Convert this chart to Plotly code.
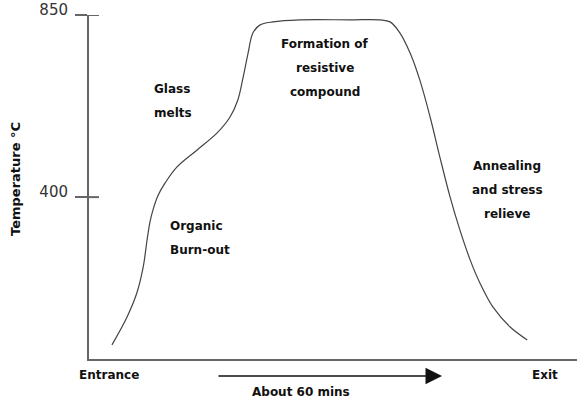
import plotly.graph_objects as go

# ---- data (time in % of furnace passage, temperature in °C) ----
time_pct = [4.7, 7.8, 9.8, 11.1, 11.9, 12.5, 13.1, 14.1, 15.6, 18.0, 22.1, 26.2, 28.9, 30.5,
            31.6, 32.6, 33.6, 35.0, 37.7, 43.2, 53.5, 59.6, 61.7, 63.7, 65.8, 67.8,
            69.9, 71.9, 74.0, 76.0, 78.1, 80.1, 82.8, 86.3, 89.8]
temperature = [35, 104, 163, 227, 294, 339, 368, 403, 435, 474, 516, 558, 598, 640,
               697, 756, 806, 825, 833, 838, 838, 838, 833, 806, 756, 689,
               598, 499, 400, 319, 245, 188, 128, 79, 47]
y_ticks = [400, 850]
y_tick_labels = ["400", "850"]
y_title = "Temperature °C"
x_end_labels = ["Entrance", "Exit"]
duration_label = "About 60 mins"
stage_labels = [
    ["Glass", "melts"],
    ["Organic", "Burn-out"],
    ["Formation of", "resistive", "compound"],
    ["Annealing", "and stress", "relieve"],
]

W, H = 580, 398
L, R, T, B = 89, 3, 15, 39
PW, PH = W - L - R, H - T - B


def px(x):
    return (x - L) / PW


def py(y):
    return (H - B - y) / PH


fig = go.Figure()
fig.add_trace(go.Scatter(x=time_pct, y=temperature, mode="lines",
                         line=dict(color="#444444", width=1.2, shape="spline", smoothing=1.0),
                         hoverinfo="skip", showlegend=False))

bold = dict(family="DejaVu Sans", size=12, color="#111111")
ann = []
# stage labels: (anchor, x pixel, first-line y pixel)
stage_pos = [("left", 152, 89), ("left", 168, 226), ("center", 325, 44), ("center", 507, 166)]
for lines, (anc, x0, y0) in zip(stage_labels, stage_pos):
    for i, line in enumerate(lines):
        ann.append(dict(x=px(x0), y=py(y0 + 24 * i), xref="paper", yref="paper",
                        text="<b>" + line + "</b>", showarrow=False, xanchor=anc,
                        yanchor="middle", font=bold))
# entrance / exit
for lab, x0 in zip(x_end_labels, [77, 530]):
    ann.append(dict(x=px(x0), y=py(375), xref="paper", yref="paper", text="<b>" + lab + "</b>",
                    showarrow=False, xanchor="left", yanchor="middle", font=bold))
# duration label and arrow
ann.append(dict(x=px(250), y=py(392), xref="paper", yref="paper", text="<b>" + duration_label + "</b>",
                showarrow=False, xanchor="left", yanchor="middle", font=bold))
ann.append(dict(x=px(442), y=py(376), xref="paper", yref="paper", text="", showarrow=True,
                ax=-(442 - 217), ay=0, arrowhead=2, arrowsize=2.2, arrowwidth=1.5,
                arrowcolor="#111111"))
# y title
ann.append(dict(x=px(15), y=py(179), xref="paper", yref="paper", text="<b>" + y_title + "</b>",
                showarrow=False, textangle=-90, xanchor="center", yanchor="middle",
                font=dict(family="DejaVu Sans", size=13, color="#111111")))

# inner half of crossing tick marks
shapes = [dict(type="line", xref="paper", yref="y", x0=0, x1=10 / PW, y0=v, y1=v,
               line=dict(color="#666666", width=2)) for v in y_ticks]

fig.update_layout(
    width=W, height=H, margin=dict(l=L, r=R, t=T, b=B, autoexpand=False),
    paper_bgcolor="white", plot_bgcolor="white",
    annotations=ann, shapes=shapes,
    xaxis=dict(range=[0, 100], showgrid=False, zeroline=False, showticklabels=False,
               showline=True, linecolor="#666666", linewidth=2, ticks="", automargin=False),
    yaxis=dict(range=[0, 850], showgrid=False, zeroline=False, showline=True,
               linecolor="#666666", linewidth=2, tickvals=y_ticks, ticktext=y_tick_labels,
               ticks="outside", ticklen=12, tickwidth=2, tickcolor="#666666",
               ticklabelstandoff=4, ticklabelshift=-5, automargin=False,
               tickfont=dict(family="DejaVu Sans", size=15, color="#333333")),
)

fig.write_html("out.html", config={"displayModeBar": False},
               post_script="document.body.style.margin='0';")
